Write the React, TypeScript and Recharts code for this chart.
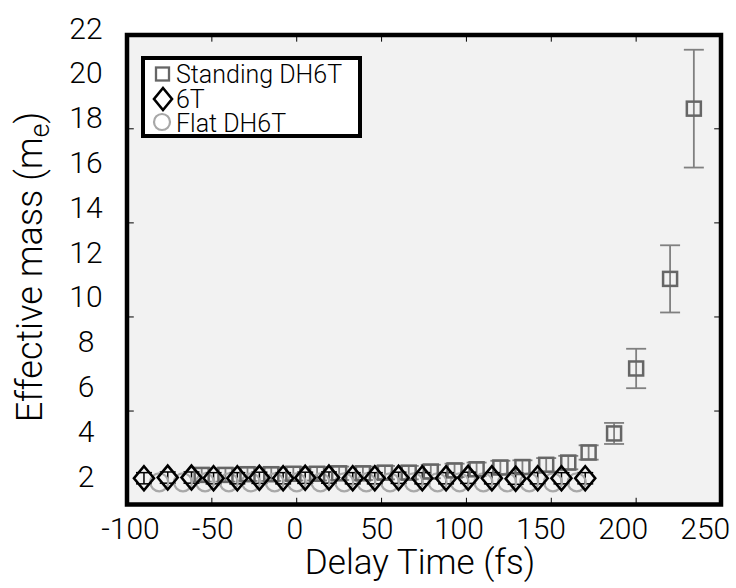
import React from 'react';
import {
  ScatterChart,
  Scatter,
  XAxis,
  YAxis,
  ErrorBar,
  ReferenceArea,
  ReferenceLine,
  Legend,
} from 'recharts';

// Standing DH6T (grey squares)
const standingX = [-56, -42, -29, -15, -2, 12, 25, 39, 52, 66, 79, 93, 106, 120, 133, 147, 160, 172, 187, 200, 220, 234];
const standingY = [2.05, 2.05, 2.08, 2.08, 2.1, 2.1, 2.12, 2.12, 2.15, 2.15, 2.2, 2.25, 2.3, 2.38, 2.4, 2.5, 2.6, 3.05, 3.9, 6.8, 10.8, 18.4];
const standingErr = [0.3, 0.3, 0.3, 0.3, 0.3, 0.3, 0.3, 0.3, 0.3, 0.3, 0.3, 0.3, 0.3, 0.3, 0.3, 0.3, 0.3, 0.32, 0.47, 0.88, 1.5, 2.63];

// 6T (black diamonds)
const sixTX = [-90, -76, -62, -49, -35, -22, -8, 5, 19, 33, 46, 60, 74, 88, 101, 115, 129, 142, 156, 170];
const sixTY = [1.9, 1.93, 1.93, 1.9, 1.9, 1.92, 1.9, 1.92, 1.93, 1.9, 1.9, 1.92, 1.9, 1.9, 1.92, 1.9, 1.88, 1.9, 1.9, 1.9];
const sixTErr = [0.25, 0.25, 0.25, 0.25, 0.25, 0.25, 0.25, 0.25, 0.25, 0.25, 0.25, 0.25, 0.25, 0.25, 0.25, 0.25, 0.25, 0.25, 0.25, 0.25];

// Flat DH6T (light grey circles)
const flatX = [-81, -67, -54, -40, -27, -13, 0, 14, 28, 41, 55, 69, 83, 96, 110, 124, 137, 151, 165];
const flatY = [1.72, 1.72, 1.72, 1.72, 1.72, 1.72, 1.72, 1.72, 1.72, 1.72, 1.72, 1.72, 1.72, 1.72, 1.72, 1.72, 1.72, 1.72, 1.72];

const xTicks = [-100, -50, 0, 50, 100, 150, 200, 250];
const yTicks = [2, 4, 6, 8, 10, 12, 14, 16, 18, 20, 22];
const frameXTicks = [-50, 0, 50, 100, 150, 200];
const frameYTicks = [4.9, 9.1, 13.3, 17.5];

const legendNames = ['Standing DH6T', '6T', 'Flat DH6T'];

const X_MIN = -100;
const X_MAX = 250;
const Y_MIN = 0.728;
const Y_MAX = 22;
const FRAME_TOP = 21.69;

const FONT = 'Roboto, "Liberation Sans", Arial, sans-serif';
const WEIGHT = 300;

const standingData = standingX.map((x, i) => ({ x, y: standingY[i], err: standingErr[i] }));
const sixTData = sixTX.map((x, i) => ({ x, y: sixTY[i], err: sixTErr[i] }));
const flatData = flatX.map((x, i) => ({ x, y: flatY[i] }));

const SquareShape = (props: any) => {
  const { cx, cy } = props;
  return <rect x={cx - 7} y={cy - 7} width={14} height={14} fill="none" stroke="#666" strokeWidth={2.5} />;
};

const DiamondShape = (props: any) => {
  const { cx, cy } = props;
  return (
    <path
      d={`M${cx},${cy - 12} L${cx + 10},${cy} L${cx},${cy + 12} L${cx - 10},${cy} Z`}
      fill="none"
      stroke="#000"
      strokeWidth={2.6}
    />
  );
};

const CircleShape = (props: any) => {
  const { cx, cy } = props;
  return <circle cx={cx} cy={cy} r={9} fill="none" stroke="#a8a8a8" strokeWidth={2.2} />;
};

const XTick = (props: any) => {
  const { x, y, payload } = props;
  // original labels drift slightly left of their tick marks
  const shift = -2 - payload.value * 0.055;
  return (
    <text x={x + shift} y={y} dy="0.71em" textAnchor="middle" fontSize={30} fontFamily={FONT} fontWeight={WEIGHT} fill="#000">
      {payload.value}
    </text>
  );
};

const YTick = (props: any) => {
  const { x, y, payload } = props;
  return (
    <text x={x} y={y} dy="0.355em" textAnchor="middle" fontSize={30} fontFamily={FONT} fontWeight={WEIGHT} fill="#000">
      {payload.value}
    </text>
  );
};

const XLabel = (props: any) => {
  const { viewBox } = props;
  return (
    <text x={viewBox.x + viewBox.width / 2 - 4} y={viewBox.y + 69} textAnchor="middle" fontSize={35} fontFamily={FONT} fontWeight={WEIGHT} fill="#000">
      Delay Time (fs)
    </text>
  );
};

const YLabel = () => (
  <text transform="translate(42, 267) rotate(-90)" textAnchor="middle" fontSize={36} fontFamily={FONT} fontWeight={WEIGHT} fill="#000">
    <tspan>Effective mass (m</tspan>
    <tspan fontSize={27} dy={7}>e</tspan>
    <tspan dy={-7}>)</tspan>
  </text>
);

const LegendBox = () => (
  <div
    style={{
      width: 221,
      height: 82,
      boxSizing: 'border-box',
      border: '4px solid #000',
      background: '#fff',
    }}
  >
    <svg width={213} height={74} style={{ display: 'block', overflow: 'visible' }}>
      <rect x={11} y={7.5} width={13} height={13} fill="none" stroke="#666" strokeWidth={2.3} />
      <path d="M18,28 L27,39 L18,50 L9,39 Z" fill="none" stroke="#000" strokeWidth={2.6} />
      <circle cx={17} cy={62} r={8} fill="none" stroke="#a8a8a8" strokeWidth={2.2} />
      {legendNames.map((name, i) => (
        <text key={name} x={31} y={23 + i * 24.5} fontSize={25} fontFamily={FONT} fontWeight={WEIGHT} fill="#000">
          {name}
        </text>
      ))}
    </svg>
  </div>
);

export default function App() {
  return (
    <div style={{ position: 'absolute', left: 0, top: 0, background: '#fff' }}>
      <ScatterChart width={736} height={588} margin={{ top: 28, right: 15, bottom: 0, left: 0 }}>
        <XAxis
          type="number"
          dataKey="x"
          domain={[X_MIN, X_MAX]}
          ticks={xTicks}
          interval={0}
          allowDataOverflow
          axisLine={false}
          tickLine={false}
          tickSize={0}
          tickMargin={13.5}
          height={83.5}
          tick={<XTick />}
          label={<XLabel />}
        />
        <YAxis
          type="number"
          dataKey="y"
          domain={[Y_MIN, Y_MAX]}
          ticks={yTicks}
          interval={0}
          allowDataOverflow
          axisLine={false}
          tickLine={false}
          tickSize={0}
          tickMargin={41}
          width={127}
          tick={<YTick />}
          label={<YLabel />}
        />
        <ReferenceArea
          x1={X_MIN}
          x2={X_MAX}
          y1={Y_MIN}
          y2={FRAME_TOP}
          fill="#f2f2f2"
          fillOpacity={1}
          stroke="none"
          ifOverflow="visible"
        />
        {frameXTicks.map((t) => (
          <ReferenceLine key={`xb${t}`} segment={[{ x: t, y: Y_MIN }, { x: t, y: Y_MIN + 0.3 }]} stroke="#000" strokeWidth={1} ifOverflow="visible" />
        ))}
        {frameXTicks.map((t) => (
          <ReferenceLine key={`xt${t}`} segment={[{ x: t, y: FRAME_TOP }, { x: t, y: FRAME_TOP - 0.3 }]} stroke="#000" strokeWidth={1} ifOverflow="visible" />
        ))}
        {frameYTicks.map((t) => (
          <ReferenceLine key={`yl${t}`} segment={[{ x: X_MIN, y: t }, { x: X_MIN + 4, y: t }]} stroke="#000" strokeWidth={1} ifOverflow="visible" />
        ))}
        {frameYTicks.map((t) => (
          <ReferenceLine key={`yr${t}`} segment={[{ x: X_MAX, y: t }, { x: X_MAX - 4, y: t }]} stroke="#000" strokeWidth={1} ifOverflow="visible" />
        ))}
        <Scatter name="Flat DH6T" data={flatData} shape={<CircleShape />} fill="#a8a8a8" isAnimationActive={false} />
        <Scatter name="Standing DH6T" data={standingData} shape={<SquareShape />} fill="#666" isAnimationActive={false}>
          <ErrorBar dataKey="err" direction="y" width={10} stroke="#808080" strokeWidth={1.8} />
        </Scatter>
        <Scatter name="6T" data={sixTData} shape={<DiamondShape />} fill="#000" isAnimationActive={false}>
          <ErrorBar dataKey="err" direction="y" width={8} stroke="#000" strokeWidth={1.5} />
        </Scatter>
        <ReferenceArea
          x1={X_MIN}
          x2={X_MAX}
          y1={Y_MIN}
          y2={FRAME_TOP}
          fill="none"
          stroke="#000"
          strokeWidth={4.5}
          ifOverflow="visible"
        />
        <Legend
          layout="vertical"
          align="center"
          verticalAlign="middle"
          content={<LegendBox />}
          wrapperStyle={{ left: 141, top: 56, width: 221, height: 82 }}
        />
      </ScatterChart>
    </div>
  );
}
